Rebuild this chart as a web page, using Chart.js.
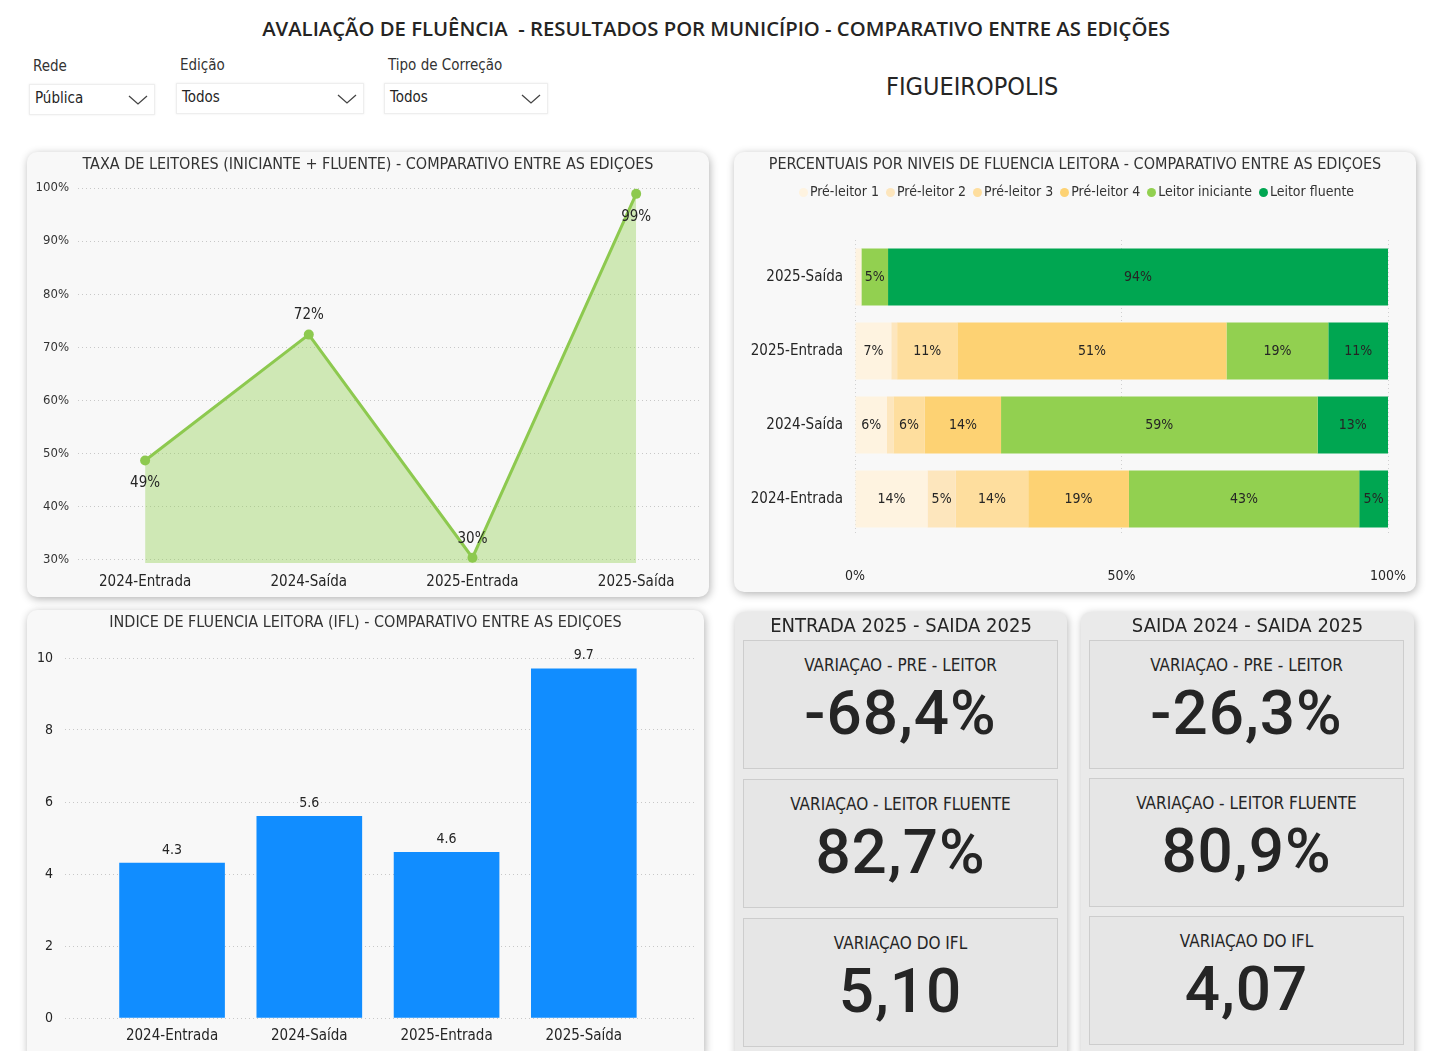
<!DOCTYPE html>
<html lang="pt-BR">
<head>
<meta charset="utf-8">
<title>Avaliação de Fluência - Figueiropolis</title>
<script src="https://cdn.jsdelivr.net/npm/chart.js@4.4.1/dist/chart.umd.min.js"></script>
<style>
  body { margin: 0; width: 1440px; height: 1051px; overflow: hidden; background: #fff; position: relative;
         font-family: "Liberation Sans Narrow", "DejaVu Sans Condensed", sans-serif; color: #252525; }
  .abs { position: absolute; }
  #titulo { left: 0; width: 1432px; top: 14px; text-align: center; font-family: "Open Sans", sans-serif;
            font-weight: 600; font-size: 20.3px; color: #252423; white-space: pre; }
  .rotulo { font-size: 15px; color: #333; }
  .caixa { background: #fff; border: 1px solid #eee; box-shadow: 0 0 2px rgba(0,0,0,0.08); font-size: 15px; }
  .caixa span { position: absolute; left: 5px; top: 4px; }
  .caixa svg { position: absolute; right: 6px; top: 9px; }
  #municipio { left: 886px; top: 72px; font-size: 25px; color: #252525; }
  .painel { background: #f8f8f8; border-radius: 10px; box-shadow: 1px 2px 9px rgba(0,0,0,0.3); overflow: hidden; }
  .painel h3 { position: absolute; margin: 0; left: 0; right: 0; top: 2px; text-align: center; font-weight: normal;
               font-size: 16px; color: #333; }
  .painel canvas { position: absolute; left: 0; top: 0; }
  #legenda { position: absolute; top: 31px; left: 0; right: 0; text-align: center; font-size: 14px; color: #333; }
  #legenda i { display: inline-block; width: 9px; height: 9px; border-radius: 50%; margin: 0 2px 0 3px; vertical-align: -1px; }
  .grupo { background: #eaeaea; border-radius: 9px; box-shadow: 1px 2px 9px rgba(0,0,0,0.28); }
  .grupo h4 { margin: 0; position: absolute; left: 0; right: 0; top: 1px; text-align: center; font-weight: normal;
              font-size: 20px; color: #252525; }
  .cartao { position: absolute; left: 8px; width: 313px; height: 127px; background: #e6e6e6; border: 1px solid #cdcdcd; }
  .cartao .nome { position: absolute; left: 0; right: 0; top: 14px; text-align: center; font-size: 17px; color: #252525; }
  .cartao .valor { position: absolute; left: 0; right: 0; top: 35px; text-align: center; font-family: Roboto, sans-serif;
                   font-weight: 500; font-size: 62px; color: #252525; letter-spacing: 1px; }
</style>
</head>
<body>
<div id="titulo" class="abs">AVALIAÇÃO DE FLUÊNCIA  - RESULTADOS POR MUNICÍPIO - COMPARATIVO ENTRE AS EDIÇÕES</div>

<div class="abs rotulo" style="left:33px;top:57px">Rede</div>
<div class="abs caixa" style="left:29px;top:84px;width:124px;height:29px"><span>Pública</span>
  <svg width="20" height="12"><polyline points="1,2 10,10 19,2" fill="none" stroke="#444" stroke-width="1.3"/></svg></div>
<div class="abs rotulo" style="left:180px;top:56px">Edição</div>
<div class="abs caixa" style="left:176px;top:83px;width:186px;height:29px"><span>Todos</span>
  <svg width="20" height="12"><polyline points="1,2 10,10 19,2" fill="none" stroke="#444" stroke-width="1.3"/></svg></div>
<div class="abs rotulo" style="left:388px;top:56px">Tipo de Correção</div>
<div class="abs caixa" style="left:384px;top:83px;width:162px;height:29px"><span>Todos</span>
  <svg width="20" height="12"><polyline points="1,2 10,10 19,2" fill="none" stroke="#444" stroke-width="1.3"/></svg></div>
<div id="municipio" class="abs">FIGUEIROPOLIS</div>

<div class="abs painel" style="left:27px;top:152px;width:682px;height:445px">
  <canvas id="grafTaxa" width="682" height="445"></canvas>
  <h3>TAXA DE LEITORES (INICIANTE + FLUENTE) - COMPARATIVO ENTRE AS EDIÇOES</h3>
</div>

<div class="abs painel" style="left:734px;top:152px;width:682px;height:440px">
  <canvas id="grafNiveis" width="682" height="440"></canvas>
  <h3>PERCENTUAIS POR NIVEIS DE FLUENCIA LEITORA - COMPARATIVO ENTRE AS EDIÇOES</h3>
  <div id="legenda"></div>
</div>

<div class="abs painel" style="left:27px;top:610px;width:677px;height:450px">
  <canvas id="grafIfl" width="677" height="441"></canvas>
  <h3>INDICE DE FLUENCIA LEITORA (IFL) - COMPARATIVO ENTRE AS EDIÇOES</h3>
</div>

<div class="abs grupo" style="left:735px;top:612px;width:332px;height:450px">
  <h4>ENTRADA 2025 - SAIDA 2025</h4>
  <div class="cartao" style="top:28px"><div class="nome">VARIAÇAO - PRE - LEITOR</div><div class="valor">-68,4%</div></div>
  <div class="cartao" style="top:167px"><div class="nome">VARIAÇAO - LEITOR FLUENTE</div><div class="valor">82,7%</div></div>
  <div class="cartao" style="top:306px"><div class="nome">VARIAÇAO DO IFL</div><div class="valor">5,10</div></div>
</div>

<div class="abs grupo" style="left:1081px;top:612px;width:333px;height:450px">
  <h4>SAIDA 2024 - SAIDA 2025</h4>
  <div class="cartao" style="top:28px"><div class="nome">VARIAÇAO - PRE - LEITOR</div><div class="valor">-26,3%</div></div>
  <div class="cartao" style="top:166px"><div class="nome">VARIAÇAO - LEITOR FLUENTE</div><div class="valor">80,9%</div></div>
  <div class="cartao" style="top:304px"><div class="nome">VARIAÇAO DO IFL</div><div class="valor">4,07</div></div>
</div>

<script>
const fonte = '"Liberation Sans Narrow", "DejaVu Sans Condensed", sans-serif';

// edicoes (ordem cronologica)
const edicoes = ['2024-Entrada', '2024-Saída', '2025-Entrada', '2025-Saída'];

// taxa de leitores (iniciante + fluente), %
const taxaLeitores = [48.7, 72.4, 30.4, 98.9];
const ticksTaxa = [30, 40, 50, 60, 70, 80, 90, 100];

// percentuais por nivel, %
const niveis = ['Pré-leitor 1', 'Pré-leitor 2', 'Pré-leitor 3', 'Pré-leitor 4', 'Leitor iniciante', 'Leitor fluente'];
const coresNiveis = ['#fef3e0', '#fde6bd', '#fede9e', '#fdd273', '#92d050', '#00a651'];
const preLeitor1 = [13.6, 6.0, 6.8, 1.2];
const preLeitor2 = [5.3, 1.2, 1.1, 0];
const preLeitor3 = [13.6, 5.9, 11.3, 0];
const preLeitor4 = [18.9, 14.3, 50.5, 0];
const leitorIniciante = [43.2, 59.4, 19.1, 5.0];
const leitorFluente = [5.4, 13.2, 11.2, 93.8];
const ticksNiveis = [0, 50, 100];

// indice de fluencia leitora
const ifl = [4.3, 5.6, 4.6, 9.7];
const ticksIfl = [0, 2, 4, 6, 8, 10];

// rotulos de dados desenhados pelo proprio grafico
const rotulos = {
  id: 'rotulos',
  afterDatasetsDraw(chart, args, opts) {
    const ctx = chart.ctx;
    ctx.save();
    ctx.font = opts.font;
    ctx.fillStyle = '#252525';
    ctx.textAlign = 'center';
    ctx.textBaseline = 'middle';
    chart.data.datasets.forEach((ds, i) => {
      chart.getDatasetMeta(i).data.forEach((el, j) => {
        const v = ds.data[j];
        const num = typeof v === 'object' ? v.y : v;
        const txt = opts.format(num, j);
        if (txt === null) return;
        const p = opts.pos(el, j, chart);
        ctx.fillText(txt, p.x, p.y);
      });
    });
    ctx.restore();
  }
};

new Chart(document.getElementById('grafTaxa'), {
  type: 'line',
  data: {
    datasets: [{
      data: taxaLeitores.map((v, i) => ({ x: i, y: v })),
      borderColor: '#8dc94f',
      backgroundColor: 'rgba(146, 208, 80, 0.4)',
      borderWidth: 3,
      fill: 'start',
      pointRadius: 5,
      pointBackgroundColor: '#8dc94f',
      pointBorderWidth: 0,
      tension: 0
    }]
  },
  options: {
    responsive: false,
    animation: false,
    layout: { padding: { top: 36, right: 9, left: 0, bottom: 0 } },
    plugins: {
      legend: { display: false },
      tooltip: { enabled: false },
      rotulos: {
        font: '15px ' + fonte,
        format: (v) => Math.round(v) + '%',
        pos: (el, j) => ({ x: el.x, y: el.y + ([0, 3].includes(j) ? 23 : -19) })
      }
    },
    scales: {
      x: {
        type: 'linear', min: -0.41, max: 3.39,
        afterBuildTicks: (s) => { s.ticks = edicoes.map((e, i) => ({ value: i })); },
        afterFit: (s) => { s.height = 34; },
        grid: { display: false },
        border: { display: false },
        ticks: { padding: 2, color: '#252525', font: { family: fonte, size: 15 }, callback: (v) => edicoes[v] }
      },
      y: {
        min: 29.4, max: 100,
        afterBuildTicks: (s) => { s.ticks = ticksTaxa.map((v) => ({ value: v })); },
        afterFit: (s) => { s.width = 51; },
        grid: { color: '#c8c8c8', drawTicks: false },
        border: { display: false, dash: [1, 3] },
        ticks: { padding: 9, color: '#333', font: { family: fonte, size: 13 }, callback: (v) => v + '%' }
      }
    }
  },
  plugins: [rotulos]
});

const seriesNiveis = [preLeitor1, preLeitor2, preLeitor3, preLeitor4, leitorIniciante, leitorFluente];
document.getElementById('legenda').innerHTML = niveis.map((n, i) =>
  '<i style="background:' + coresNiveis[i] + '"></i>' + n).join(' ');

new Chart(document.getElementById('grafNiveis'), {
  type: 'bar',
  data: {
    labels: edicoes,
    datasets: seriesNiveis.map((s, i) => ({
      label: niveis[i],
      data: s,
      backgroundColor: coresNiveis[i],
      borderWidth: 0,
      barPercentage: 0.77,
      categoryPercentage: 1
    }))
  },
  options: {
    indexAxis: 'y',
    responsive: false,
    animation: false,
    layout: { padding: { top: 88, right: 28, left: 0, bottom: 0 } },
    plugins: {
      legend: { display: false },
      tooltip: { enabled: false },
      rotulos: {
        font: '14px ' + fonte,
        format: (v) => (v >= 3 ? Math.round(v) + '%' : null),
        pos: (el) => ({ x: (el.x + el.base) / 2, y: el.y })
      }
    },
    scales: {
      x: {
        stacked: true, min: 0, max: 100,
        afterBuildTicks: (s) => { s.ticks = ticksNiveis.map((v) => ({ value: v })); },
        afterFit: (s) => { s.height = 56; s.paddingLeft = 0; s.paddingRight = 0; },
        grid: { color: '#d0d0d0', drawTicks: false },
        border: { display: false, dash: [1, 3] },
        ticks: { padding: 32, color: '#252525', font: { family: fonte, size: 14 }, callback: (v) => v + '%' }
      },
      y: {
        stacked: true, reverse: true,
        afterFit: (s) => { s.width = 121; },
        grid: { display: false },
        border: { display: false },
        ticks: { padding: 4, color: '#252525', font: { family: fonte, size: 15 } }
      }
    }
  },
  plugins: [rotulos]
});

new Chart(document.getElementById('grafIfl'), {
  type: 'bar',
  data: {
    datasets: [{
      data: ifl.map((v, i) => ({ x: i, y: v })),
      backgroundColor: '#118dff',
      borderWidth: 0,
      barThickness: 105
    }]
  },
  options: {
    responsive: false,
    animation: false,
    layout: { padding: { top: 48, right: 9, left: 0, bottom: 0 } },
    plugins: {
      legend: { display: false },
      tooltip: { enabled: false },
      rotulos: {
        font: '14px ' + fonte,
        format: (v) => v.toFixed(1),
        pos: (el) => ({ x: el.x, y: el.y - 13 })
      }
    },
    scales: {
      x: {
        type: 'linear', min: -0.78, max: 3.81, offset: false,
        afterBuildTicks: (s) => { s.ticks = edicoes.map((e, i) => ({ value: i })); },
        afterFit: (s) => { s.height = 33; },
        grid: { display: false },
        border: { display: false },
        ticks: { padding: 1, color: '#252525', font: { family: fonte, size: 15 }, callback: (v) => edicoes[v] }
      },
      y: {
        min: 0, max: 10,
        afterBuildTicks: (s) => { s.ticks = ticksIfl.map((v) => ({ value: v })); },
        afterFit: (s) => { s.width = 38; },
        grid: { color: '#c8c8c8', drawTicks: false },
        border: { display: false, dash: [1, 3] },
        ticks: { padding: 12, color: '#252525', font: { family: fonte, size: 14 } }
      }
    }
  },
  plugins: [rotulos]
});
</script>
</body>
</html>
